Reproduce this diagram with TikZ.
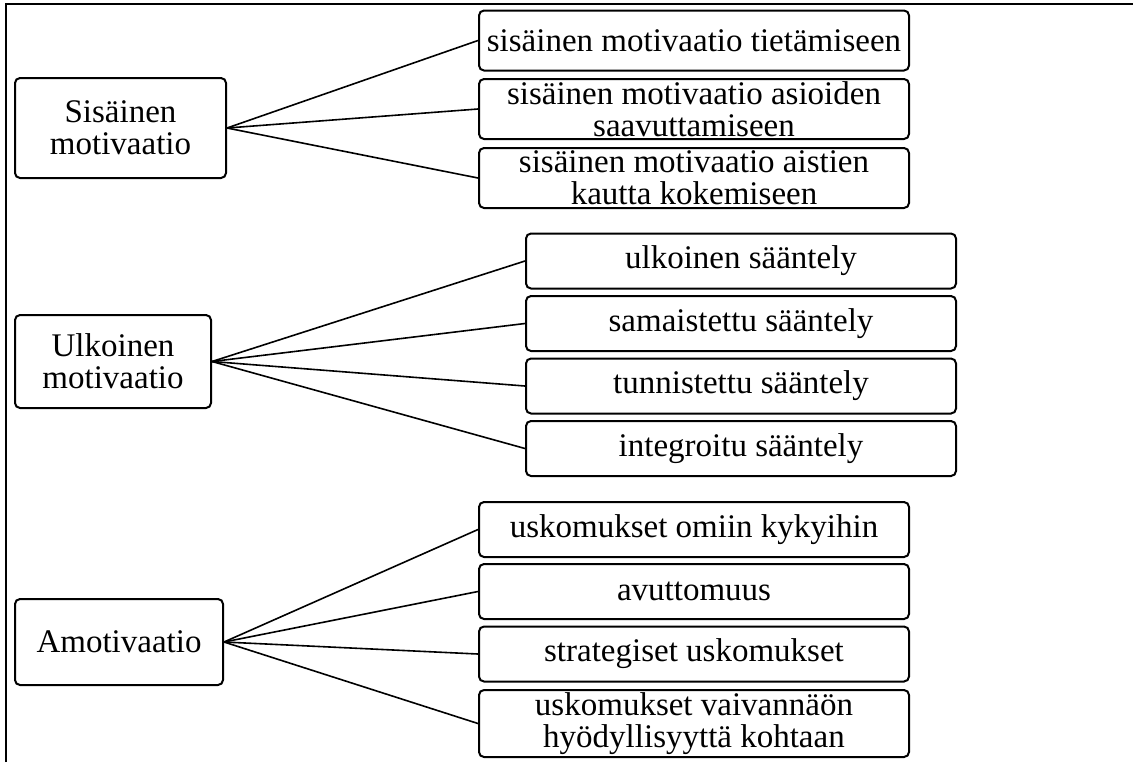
\documentclass[tikz,border=0pt]{standalone}
\usepackage{fontspec}
\setmainfont{Liberation Serif}
\usetikzlibrary{positioning}

\begin{document}
\begin{tikzpicture}[
  x=0.5pt, y=-0.5pt,
  font=\fontsize{16.5}{16}\selectfont,
  box/.style={draw, line width=1pt, rounded corners=2.5pt, align=center, inner sep=1pt},
  main/.style={box},
  sub/.style={box, anchor=west, minimum width=215pt, minimum height=27.5pt},
  link/.style={line width=0.8pt},
]
  \useasboundingbox (0,0) rectangle (1133,762);
  % frame
  \draw[line width=1pt] (6,762) |- (1133,4);

  % main categories
  \node[main, minimum width=105.5pt, minimum height=50pt] (m1) at (120.5,128) {Sisäinen\\motivaatio};
  \node[main, minimum width=98pt, minimum height=46.5pt] (m2) at (113,361.5) {Ulkoinen\\motivaatio};
  \node[main, minimum width=104pt, minimum height=43pt] (m3) at (119,642) {Amotivaatio};

  % intrinsic
  \foreach \yy/\txt [count=\k] in {40.5/{sisäinen motivaatio tietämiseen},
      109/{sisäinen motivaatio asioiden\\saavuttamiseen},
      178/{sisäinen motivaatio aistien\\kautta kokemiseen}} {
    \node[sub, minimum height=30pt] (a\k) at (478,\yy) {\txt};
    \draw[link] (m1.east) -- (a\k.west);
  }

  % extrinsic
  \foreach \yy/\txt [count=\k] in {261/ulkoinen sääntely, 323.5/samaistettu sääntely,
      386/tunnistettu sääntely, 448.5/integroitu sääntely} {
    \node[sub] (b\k) at (525,\yy) {\txt};
    \draw[link] (m2.east) -- (b\k.west);
  }

  % amotivation
  \foreach \yy/\txt [count=\k] in {529.5/uskomukset omiin kykyihin, 591.5/avuttomuus,
      654/strategiset uskomukset} {
    \node[sub] (c\k) at (478,\yy) {\txt};
    \draw[link] (m3.east) -- (c\k.west);
  }
  \node[sub, minimum height=33.5pt] (c4) at (478,723.5) {uskomukset vaivannäön\\hyödyllisyyttä kohtaan};
  \draw[link] (m3.east) -- (c4.west);
\end{tikzpicture}
\end{document}
